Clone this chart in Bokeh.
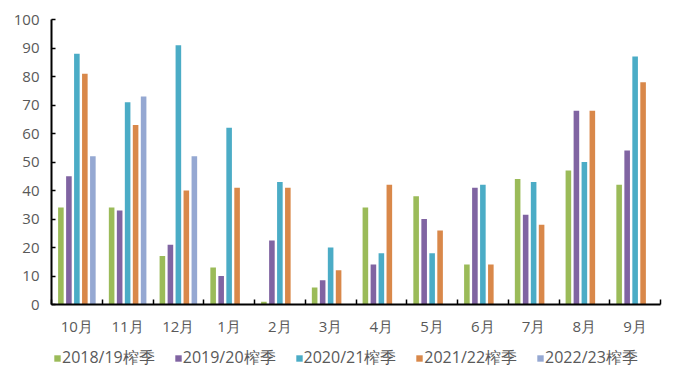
import numpy as np
from bokeh.plotting import figure
from bokeh.layouts import column
from bokeh.models import (ColumnDataSource, Range1d, FixedTicker, Legend, LegendItem, LinearAxis)
from bokeh.transform import dodge
from bokeh.embed import file_html
from bokeh.resources import INLINE

months = ["10月", "11月", "12月", "1月", "2月", "3月", "4月", "5月", "6月", "7月", "8月", "9月"]
s2018 = [34, 34, 17, 13, 1, 6, 34, 38, 14, 44, 47, 42]
s2019 = [45, 33, 21, 10, 22.5, 8.5, 14, 30, 41, 31.5, 68, 54]
s2020 = [88, 71, 91, 62, 43, 20, 18, 18, 42, 43, 50, 87]
s2021 = [81, 63, 40, 41, 41, 12, 42, 26, 14, 28, 68, 78]
s2022 = [52, 73, 52]
series_names = ["2018/19榨季", "2019/20榨季", "2020/21榨季", "2021/22榨季", "2022/23榨季"]
colors = ["#9BBB59", "#8064A2", "#4BACC6", "#D9884A", "#95A8D2"]

FONT = "Open Sans"
GRAY = "#595959"

x = list(np.arange(len(months)) + 0.5)
src = ColumnDataSource(dict(x=x, s2018=s2018, s2019=s2019, s2020=s2020, s2021=s2021))
src22 = ColumnDataSource(dict(x=x[:len(s2022)], s2022=s2022))

p = figure(frame_width=609, frame_height=285, output_backend="svg", toolbar_location=None,
           x_range=Range1d(0, len(months)), y_range=Range1d(0, 100),
           min_border_left=51, min_border_top=19, min_border_right=8, min_border_bottom=38,
           x_axis_location=None, y_axis_location=None)
p.outline_line_color = None
p.xgrid.visible = False
p.ygrid.visible = False

yax = LinearAxis(ticker=FixedTicker(ticks=list(range(0, 101, 10))))
yax.axis_line_color = "black"
yax.axis_line_width = 2
yax.major_tick_in = 4
yax.major_tick_out = 0
yax.major_tick_line_color = "black"
yax.major_tick_line_width = 1.5
yax.minor_tick_line_color = None
yax.major_label_text_font = FONT
yax.major_label_text_font_size = "15px"
yax.major_label_text_color = GRAY
yax.major_label_standoff = 12
p.add_layout(yax, "left")

xax = LinearAxis(ticker=FixedTicker(ticks=x, minor_ticks=list(range(0, len(months) + 1))))
xax.axis_line_color = "black"
xax.axis_line_width = 2
xax.major_tick_line_color = None
xax.minor_tick_in = 5
xax.minor_tick_out = 0
xax.minor_tick_line_color = "black"
xax.minor_tick_line_width = 1.5
xax.major_label_overrides = {v: m for v, m in zip(x, months)}
xax.major_label_text_font = FONT
xax.major_label_text_font_size = "15px"
xax.major_label_text_color = GRAY
xax.major_label_standoff = 5
p.add_layout(xax, "below")

offs = [-0.315, -0.157, 0.0, 0.157, 0.315]
w = 0.11
keys = ["s2018", "s2019", "s2020", "s2021"]
for i, key in enumerate(keys):
    p.vbar(x=dodge("x", offs[i], range=p.x_range), top=key, width=w, source=src,
           fill_color=colors[i], line_color=None)
p.vbar(x=dodge("x", offs[4], range=p.x_range), top="s2022", width=w, source=src22,
       fill_color=colors[4], line_color=None)

# legend strip below the chart (frames of the column are aligned with the chart's)
lg = figure(frame_width=609, frame_height=36, output_backend="svg", toolbar_location=None,
            x_range=Range1d(0, len(months)), y_range=Range1d(0, 100),
            min_border_left=51, min_border_right=8, min_border_top=0, min_border_bottom=0,
            x_axis_location=None, y_axis_location=None)
lg.outline_line_color = None
lg.xgrid.visible = False
lg.ygrid.visible = False
lrs = []
for i, key in enumerate(keys):
    lrs.append(lg.vbar(x="x", top=key, width=w, source=src, fill_color=colors[i],
                       line_color=None, visible=False))
lrs.append(lg.vbar(x="x", top="s2022", width=w, source=src22, fill_color=colors[4],
                   line_color=None, visible=False))

legend = Legend(items=[LegendItem(label=n, renderers=[r]) for n, r in zip(series_names, lrs)],
                orientation="horizontal", location=(2, 9))
legend.glyph_width = 8
legend.glyph_height = 8
legend.label_standoff = 1
legend.spacing = 19
legend.label_text_font = FONT
legend.label_text_font_size = "16px"
legend.label_text_color = GRAY
legend.border_line_color = None
legend.background_fill_alpha = 0
legend.inactive_fill_alpha = 0
legend.padding = 0
legend.margin = 0
lg.add_layout(legend, "center")

layout = column(p, lg, spacing=0)
open("out.html", "w").write(file_html(layout, INLINE))
